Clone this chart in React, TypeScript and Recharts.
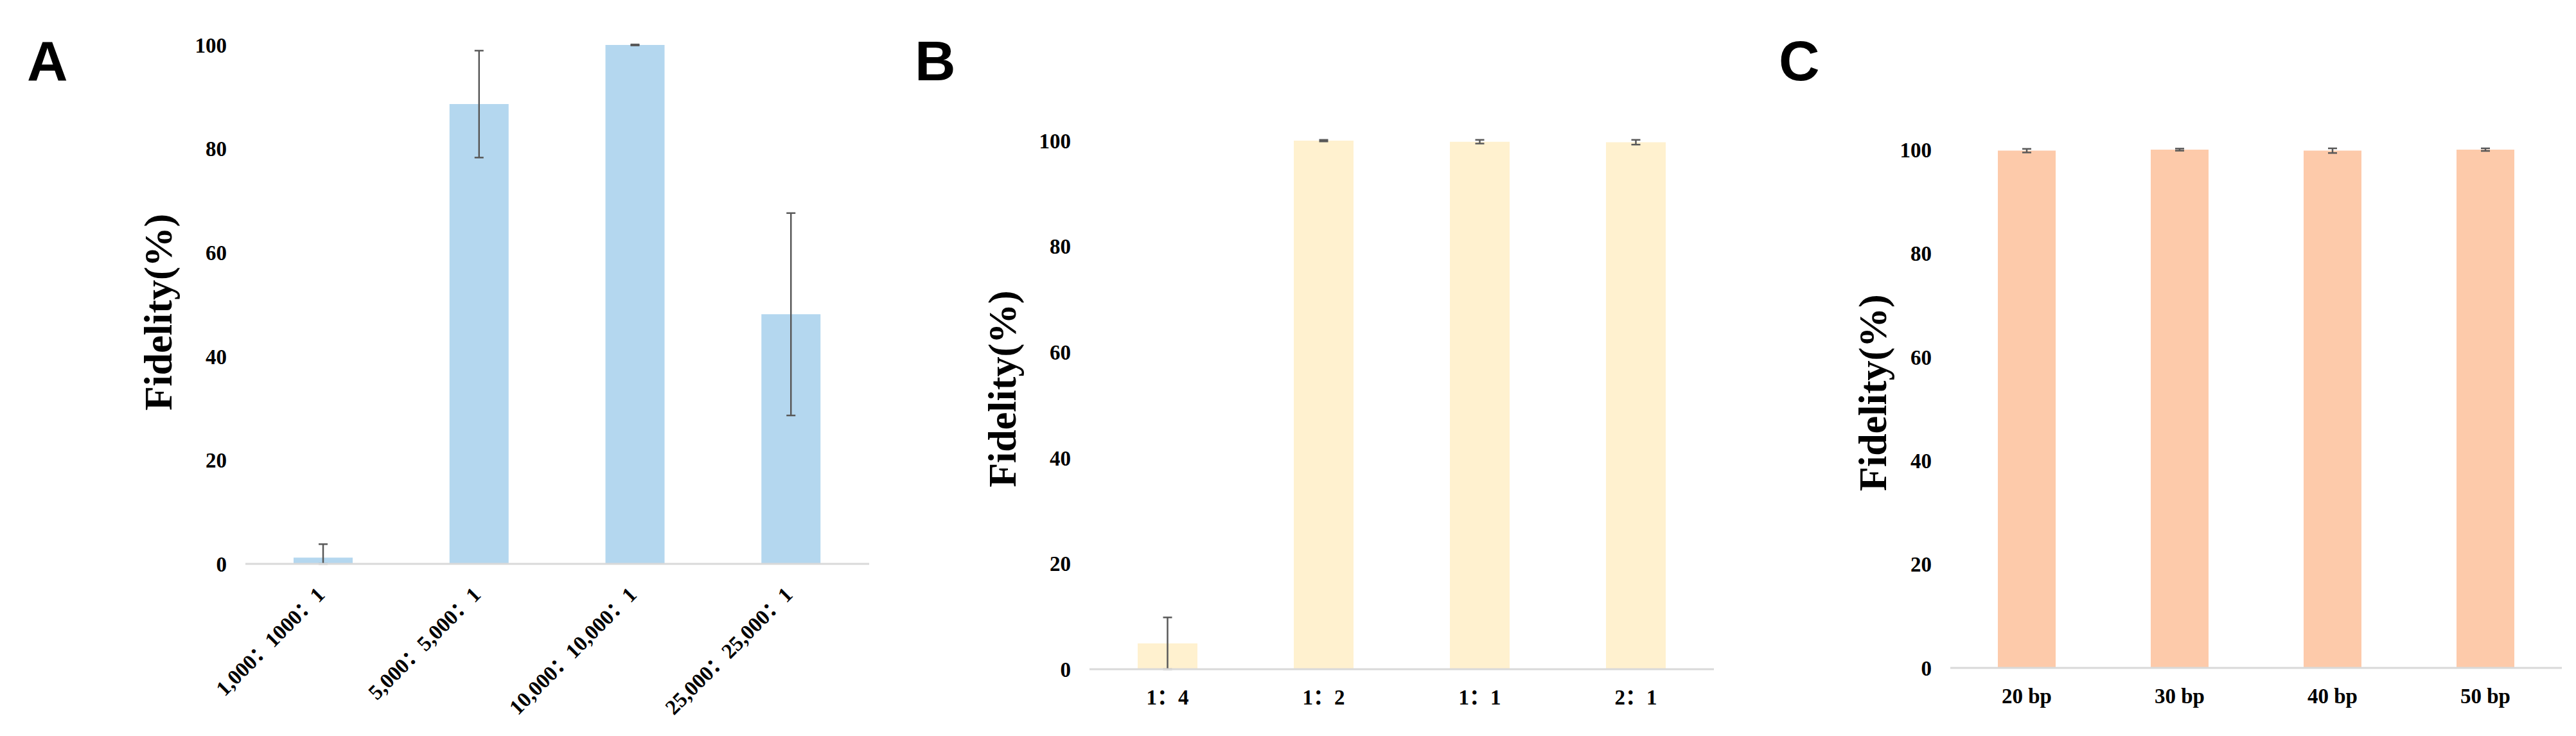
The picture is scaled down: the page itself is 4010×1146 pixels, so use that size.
import { BarChart, Bar, XAxis, YAxis, ErrorBar, Label } from "recharts";

// panel A: cell ratio
const ratioLabels = ["1,000：1000：1", "5,000：5,000：1", "10,000：10,000：1", "25,000：25,000：1"];
const ratioFidelity = [1.2, 88.6, 100, 48.1];
const ratioError = [[1.2, 2.6], [10.3, 10.3], [0.1, 0.1], [19.5, 19.5]];

// panel B: mixing ratio
const mixLabels = ["1：4", "1：2", "1：1", "2：1"];
const mixFidelity = [4.9, 100, 99.8, 99.7];
const mixError = [4.9, 0.15, 0.35, 0.45];

// panel C: overlap length
const lengthLabels = ["20 bp", "30 bp", "40 bp", "50 bp"];
const lengthFidelity = [99.8, 100, 99.8, 100];
const lengthError = [0.35, 0.2, 0.45, 0.25];

const yTicks = [0, 20, 40, 60, 80, 100];

const serif = '"Liberation Serif", "Times New Roman", "Noto Sans CJK SC", serif';
const tickFont = { fontFamily: serif, fontSize: 33, fontWeight: 700, fill: "#000" };

const toRows = (names: string[], values: number[], errs: any[]) =>
  names.map((name, i) => ({ name, value: values[i], err: errs[i] }));

const axisTitle = (gap: number, shift: number) => (props: any) => {
  const vb = props.viewBox;
  const x = vb.x + vb.width - gap;
  const y = vb.y + vb.height / 2 + shift;
  return (
    <text
      x={x}
      y={y}
      transform={`rotate(-90 ${x} ${y})`}
      textAnchor="middle"
      style={{ fontFamily: serif, fontSize: 62, fontWeight: 700, fill: "#000" }}
    >
      Fidelity(%)
    </text>
  );
};

function SlantTick(props: any) {
  const { x, y, payload } = props;
  const tx = x + 4;
  const ty = y + 50;
  return (
    <text x={tx} y={ty} transform={`rotate(-45 ${tx} ${ty})`} textAnchor="end" style={tickFont}>
      {payload.value}
    </text>
  );
}

type PanelProps = {
  rows: any[];
  color: string;
  left: number;
  width: number;
  top: number;
  yAxisWidth: number;
  xAxisHeight: number;
  right: number;
  barSize: number;
  slanted?: boolean;
  titleGap: number;
  titleShift: number;
};

function Panel(p: PanelProps) {
  return (
    <div style={{ position: "absolute", left: p.left, top: 0 }}>
      <BarChart
        width={p.width}
        height={1146}
        data={p.rows}
        margin={{ top: p.top, right: p.right, bottom: 0, left: 0 }}
      >
        <XAxis
          dataKey="name"
          height={p.xAxisHeight}
          axisLine={{ stroke: "#d9d9d9", strokeWidth: 3 }}
          tickLine={false}
          tickSize={0}
          tickMargin={p.slanted ? 0 : 32}
          interval={0}
          tick={p.slanted ? <SlantTick /> : tickFont}
        />
        <YAxis
          width={p.yAxisWidth}
          domain={[0, 100]}
          ticks={yTicks}
          allowDataOverflow
          axisLine={false}
          tickLine={false}
          tickSize={0}
          tickMargin={29}
          tick={tickFont}
        >
          <Label content={axisTitle(p.titleGap, p.titleShift)} />
        </YAxis>
        <Bar dataKey="value" fill={p.color} barSize={p.barSize} isAnimationActive={false}>
          <ErrorBar dataKey="err" width={7} stroke="#595959" strokeWidth={2.5} direction="y" />
        </Bar>
      </BarChart>
    </div>
  );
}

export default function App() {
  const letter = { fontFamily: '"Liberation Sans", Arial, sans-serif', fontSize: 88, fontWeight: 700, fill: "#000" };
  return (
    <div style={{ position: "absolute", left: 0, top: 0, width: 4010, height: 1146, background: "#fff" }}>
      <Panel
        rows={toRows(ratioLabels, ratioFidelity, ratioError)}
        color="#b4d7ef"
        left={0}
        width={1380}
        top={70}
        yAxisWidth={382}
        xAxisHeight={268}
        right={27}
        barSize={92}
        slanted
        titleGap={115}
        titleShift={12}
      />
      <Panel
        rows={toRows(mixLabels, mixFidelity, mixError)}
        color="#fff1cf"
        left={1380}
        width={1300}
        top={219}
        yAxisWidth={316}
        xAxisHeight={104}
        right={12}
        barSize={93}
        titleGap={115}
        titleShift={-25}
      />
      <Panel
        rows={toRows(lengthLabels, lengthFidelity, lengthError)}
        color="#fdcaaa"
        left={2680}
        width={1330}
        top={233}
        yAxisWidth={356}
        xAxisHeight={106}
        right={22}
        barSize={90}
        titleGap={100}
        titleShift={-25}
      />
      <svg width={4010} height={1146} style={{ position: "absolute", left: 0, top: 0, pointerEvents: "none" }}>
        <text x={42} y={125} style={letter}>A</text>
        <text x={1424} y={125} style={letter}>B</text>
        <text x={2769} y={125} style={letter}>C</text>
      </svg>
    </div>
  );
}
